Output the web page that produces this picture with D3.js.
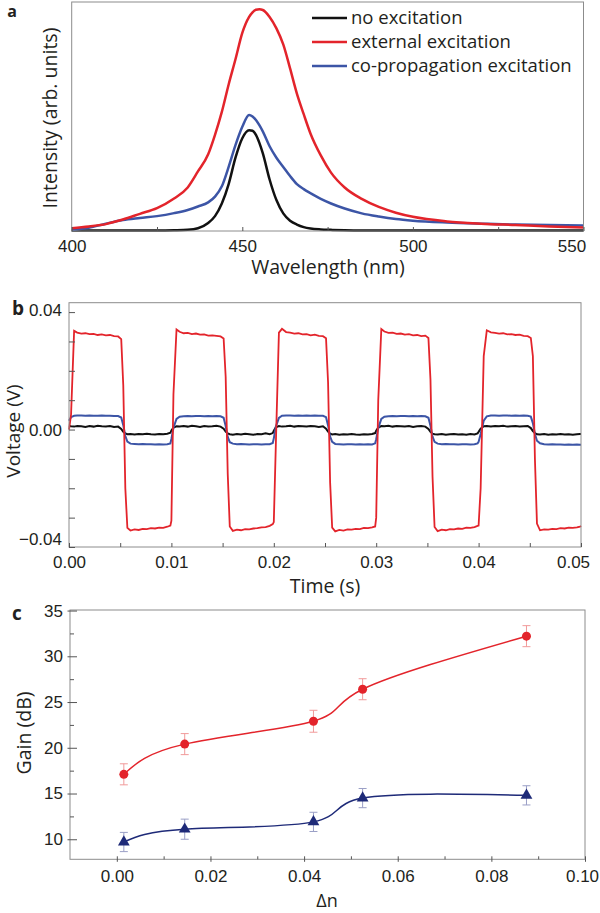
<!DOCTYPE html>
<html>
<head>
<meta charset="utf-8">
<script src="https://cdn.jsdelivr.net/npm/d3@7"></script>
<style>
body { margin: 0; background: #fff; }
svg { display: block; font-family: "Open Sans", sans-serif; }
.tick text { fill: #231f20; }
</style>
</head>
<body>
<svg id="fig" width="600" height="913"></svg>
<script>
// ---- panel a : emission spectra (arb. units) ----
var wavelength = [400, 405, 410, 415, 420, 425, 430, 434, 437, 440, 442, 444, 446, 448, 450, 452, 453, 454, 455, 456, 458, 460, 462, 464, 466, 468, 470, 473, 476, 480, 485, 490, 495, 500, 510, 520, 530, 540, 550];
var noExcitation = [0.002, 0.002, 0.002, 0.002, 0.002, 0.002, 0.003, 0.005, 0.012, 0.035, 0.065, 0.12, 0.205, 0.32, 0.405, 0.44, 0.438, 0.42, 0.385, 0.34, 0.225, 0.135, 0.077, 0.045, 0.028, 0.017, 0.011, 0.007, 0.005, 0.003, 0.002, 0.002, 0.002, 0.002, 0.002, 0.002, 0.002, 0.002, 0.002];
var externalExc = [0.012, 0.02, 0.03, 0.05, 0.075, 0.1, 0.142, 0.19, 0.26, 0.335, 0.42, 0.52, 0.64, 0.75, 0.865, 0.935, 0.955, 0.966, 0.968, 0.965, 0.935, 0.885, 0.815, 0.71, 0.6, 0.51, 0.425, 0.33, 0.255, 0.19, 0.14, 0.105, 0.08, 0.062, 0.042, 0.032, 0.026, 0.02, 0.015];
var coPropExc = [0.004, 0.014, 0.032, 0.048, 0.057, 0.065, 0.078, 0.092, 0.107, 0.125, 0.15, 0.195, 0.28, 0.375, 0.455, 0.507, 0.5, 0.485, 0.462, 0.435, 0.37, 0.32, 0.28, 0.24, 0.205, 0.183, 0.165, 0.14, 0.12, 0.098, 0.077, 0.063, 0.052, 0.045, 0.037, 0.032, 0.028, 0.026, 0.024];
var legendNames = ["no excitation", "external excitation", "co-propagation excitation"];

// ---- panel b : modulated voltage traces ----
var timeS = [
  0.0000, 0.0002, 0.0005, 0.0008, 0.0012, 0.0016, 0.0020, 0.0024, 0.0028, 0.0032, 0.0036, 0.0040, 0.0044, 0.0048, 0.0051, 0.0053, 0.0055, 0.0057, 0.0060, 0.0064, 0.0068, 0.0072, 0.0076, 0.0080, 0.0084, 0.0088, 0.0092, 0.0096, 0.0099,
  0.0100, 0.0102, 0.0105, 0.0108, 0.0112, 0.0116, 0.0120, 0.0124, 0.0128, 0.0132, 0.0136, 0.0140, 0.0144, 0.0148, 0.0151, 0.0153, 0.0155, 0.0157, 0.0160, 0.0164, 0.0168, 0.0172, 0.0176, 0.0180, 0.0184, 0.0188, 0.0192, 0.0196, 0.0199,
  0.0200, 0.0202, 0.0205, 0.0208, 0.0212, 0.0216, 0.0220, 0.0224, 0.0228, 0.0232, 0.0236, 0.0240, 0.0244, 0.0248, 0.0251, 0.0253, 0.0255, 0.0257, 0.0260, 0.0264, 0.0268, 0.0272, 0.0276, 0.0280, 0.0284, 0.0288, 0.0292, 0.0296, 0.0299,
  0.0300, 0.0302, 0.0305, 0.0308, 0.0312, 0.0316, 0.0320, 0.0324, 0.0328, 0.0332, 0.0336, 0.0340, 0.0344, 0.0348, 0.0351, 0.0353, 0.0355, 0.0357, 0.0360, 0.0364, 0.0368, 0.0372, 0.0376, 0.0380, 0.0384, 0.0388, 0.0392, 0.0396, 0.0399,
  0.0400, 0.0402, 0.0405, 0.0408, 0.0412, 0.0416, 0.0420, 0.0424, 0.0428, 0.0432, 0.0436, 0.0440, 0.0444, 0.0448, 0.0451, 0.0453, 0.0455, 0.0457, 0.0460, 0.0464, 0.0468, 0.0472, 0.0476, 0.0480, 0.0484, 0.0488, 0.0492, 0.0496, 0.0499,
  0.0500];
var voltExternal = [
  0.0000, 0.0050, 0.0336, 0.0330, 0.0327, 0.0328, 0.0325, 0.0326, 0.0322, 0.0324, 0.0321, 0.0322, 0.0318, 0.0317, 0.0308, 0.0150, -0.0200, -0.0335, -0.0344, -0.0340, -0.0342, -0.0338, -0.0339, -0.0336, -0.0337, -0.0334, -0.0335, -0.0331, -0.0327,
  -0.0310, 0.0120, 0.0341, 0.0333, 0.0328, 0.0329, 0.0325, 0.0327, 0.0323, 0.0324, 0.0320, 0.0321, 0.0319, 0.0317, 0.0310, 0.0180, -0.0150, -0.0330, -0.0345, -0.0341, -0.0343, -0.0339, -0.0340, -0.0337, -0.0336, -0.0333, -0.0332, -0.0328, -0.0322,
  -0.0315, -0.0050, 0.0330, 0.0343, 0.0332, 0.0330, 0.0327, 0.0328, 0.0324, 0.0325, 0.0321, 0.0323, 0.0319, 0.0318, 0.0311, 0.0160, -0.0180, -0.0334, -0.0347, -0.0342, -0.0344, -0.0340, -0.0341, -0.0338, -0.0339, -0.0335, -0.0336, -0.0333, -0.0330,
  -0.0300, 0.0100, 0.0342, 0.0334, 0.0329, 0.0330, 0.0326, 0.0327, 0.0323, 0.0325, 0.0321, 0.0322, 0.0318, 0.0320, 0.0312, 0.0170, -0.0160, -0.0332, -0.0346, -0.0341, -0.0343, -0.0339, -0.0340, -0.0337, -0.0338, -0.0334, -0.0335, -0.0332, -0.0328,
  -0.0327, -0.0200, 0.0250, 0.0338, 0.0331, 0.0329, 0.0327, 0.0328, 0.0324, 0.0325, 0.0322, 0.0323, 0.0319, 0.0318, 0.0312, 0.0250, -0.0100, -0.0320, -0.0343, -0.0340, -0.0341, -0.0338, -0.0339, -0.0336, -0.0337, -0.0334, -0.0335, -0.0333, -0.0331,
  -0.0328];
var voltCoProp = [
  0.0030, 0.0042, 0.0047, 0.0048, 0.0048, 0.0047, 0.0048, 0.0047, 0.0047, 0.0048, 0.0047, 0.0047, 0.0046, 0.0046, 0.0041, 0.0015, -0.0022, -0.0041, -0.0048, -0.0049, -0.0050, -0.0049, -0.0050, -0.0050, -0.0051, -0.0050, -0.0051, -0.0050, -0.0047,
  -0.0032, 0.0006, 0.0036, 0.0044, 0.0045, 0.0046, 0.0045, 0.0046, 0.0046, 0.0045, 0.0046, 0.0045, 0.0046, 0.0045, 0.0040, 0.0012, -0.0025, -0.0043, -0.0048, -0.0050, -0.0049, -0.0050, -0.0051, -0.0050, -0.0050, -0.0051, -0.0050, -0.0050, -0.0046,
  -0.0030, 0.0010, 0.0040, 0.0047, 0.0048, 0.0048, 0.0047, 0.0048, 0.0047, 0.0048, 0.0047, 0.0048, 0.0047, 0.0047, 0.0042, 0.0014, -0.0024, -0.0042, -0.0049, -0.0050, -0.0051, -0.0050, -0.0050, -0.0051, -0.0050, -0.0051, -0.0050, -0.0051, -0.0047,
  -0.0033, 0.0005, 0.0036, 0.0044, 0.0045, 0.0046, 0.0045, 0.0046, 0.0046, 0.0045, 0.0046, 0.0045, 0.0046, 0.0045, 0.0040, 0.0013, -0.0024, -0.0042, -0.0048, -0.0050, -0.0049, -0.0050, -0.0050, -0.0051, -0.0050, -0.0050, -0.0051, -0.0050, -0.0047,
  -0.0042, -0.0015, 0.0030, 0.0045, 0.0048, 0.0048, 0.0047, 0.0048, 0.0048, 0.0047, 0.0048, 0.0047, 0.0048, 0.0047, 0.0044, 0.0022, -0.0015, -0.0038, -0.0047, -0.0050, -0.0051, -0.0050, -0.0051, -0.0051, -0.0052, -0.0051, -0.0052, -0.0051, -0.0052,
  -0.0052];
var voltNone = [
  0.0012, 0.0011, 0.0010, 0.0012, 0.0011, 0.0009, 0.0012, 0.0010, 0.0013, 0.0011, 0.0010, 0.0012, 0.0009, 0.0010, 0.0002, -0.0008, -0.0013, -0.0016, -0.0015, -0.0017, -0.0015, -0.0016, -0.0014, -0.0016, -0.0017, -0.0015, -0.0016, -0.0014, -0.0011,
  -0.0003, 0.0007, 0.0011, 0.0010, 0.0012, 0.0010, 0.0013, 0.0011, 0.0009, 0.0012, 0.0010, 0.0011, 0.0013, 0.0010, 0.0003, -0.0007, -0.0013, -0.0016, -0.0018, -0.0015, -0.0017, -0.0014, -0.0016, -0.0018, -0.0015, -0.0016, -0.0013, -0.0016, -0.0012,
  -0.0004, 0.0008, 0.0012, 0.0010, 0.0011, 0.0013, 0.0010, 0.0012, 0.0011, 0.0010, 0.0012, 0.0011, 0.0009, 0.0011, 0.0003, -0.0007, -0.0014, -0.0017, -0.0015, -0.0018, -0.0016, -0.0017, -0.0015, -0.0017, -0.0018, -0.0016, -0.0017, -0.0015, -0.0012,
  -0.0004, 0.0007, 0.0012, 0.0011, 0.0013, 0.0010, 0.0012, 0.0011, 0.0010, 0.0012, 0.0009, 0.0011, 0.0012, 0.0010, 0.0002, -0.0008, -0.0014, -0.0016, -0.0017, -0.0015, -0.0018, -0.0016, -0.0015, -0.0017, -0.0016, -0.0018, -0.0015, -0.0017, -0.0013,
  -0.0008, 0.0003, 0.0011, 0.0012, 0.0010, 0.0012, 0.0011, 0.0013, 0.0010, 0.0011, 0.0012, 0.0010, 0.0011, 0.0012, 0.0005, -0.0005, -0.0012, -0.0016, -0.0017, -0.0015, -0.0018, -0.0016, -0.0017, -0.0015, -0.0017, -0.0016, -0.0018, -0.0016, -0.0015,
  -0.0015];

// ---- panel c : gain vs index contrast ----
var deltaN = [0.0015, 0.0145, 0.042, 0.0525, 0.0875];
var gainExternal = [17.1, 20.4, 22.9, 26.4, 32.2];
var errExternal = [1.15, 1.15, 1.2, 1.15, 1.15];
var gainCoProp = [9.7, 11.1, 11.9, 14.5, 14.8];
var errCoProp = [1.05, 1.1, 1.05, 1.05, 1.05];

var RED = "#e3242b", BLUE = "#3c55a6", BLACK = "#111", NAVY = "#1e2a78";
var FRAME = "#8c8c8c", TXT = "#231f20";

var svg = d3.select("#fig");

function frame(g, x, y) {
  g.append("rect")
    .attr("x", x.range()[0]).attr("y", y.range()[1])
    .attr("width", x.range()[1] - x.range()[0])
    .attr("height", y.range()[0] - y.range()[1])
    .attr("fill", "none").attr("stroke", FRAME).attr("stroke-width", 1);
}
function styleAxis(sel, fs) {
  sel.select(".domain").remove();
  sel.selectAll(".tick line").attr("stroke", "#555");
  sel.selectAll(".tick text").style("font-size", fs + "px");
}
// last label on an x axis is pulled in so it stays inside the picture
function pullLast(sel, v, dx) {
  sel.selectAll(".tick text").filter(function(d) { return d === v; }).attr("x", dx);
}

// ================= panel a =================
var ga = svg.append("g");
var xA = d3.scaleLinear().domain([400, 550]).range([71.7, 583.5]);
var yA = d3.scaleLinear().domain([0, 1]).range([231, 2]);

var specLine = function(vals) {
  return d3.line().curve(d3.curveMonotoneX)
    .x(function(d, i) { return xA(wavelength[i]); })
    .y(function(d) { return yA(d); })(vals);
};
ga.append("path").attr("d", specLine(noExcitation)).attr("fill", "none").attr("stroke", BLACK).attr("stroke-width", 2.5);
ga.append("path").attr("d", specLine(coPropExc)).attr("fill", "none").attr("stroke", BLUE).attr("stroke-width", 2.5);
ga.append("path").attr("d", specLine(externalExc)).attr("fill", "none").attr("stroke", RED).attr("stroke-width", 2.5);
frame(ga, xA, yA);

ga.append("g").attr("transform", "translate(0,231)")
  .call(d3.axisBottom(xA).tickValues([425, 475, 525]).tickSize(-4).tickFormat(""))
  .call(function(s) { styleAxis(s, 17); });
ga.append("g").attr("transform", "translate(0,231)")
  .call(d3.axisBottom(xA).tickValues([400, 450, 500, 550]).tickSize(-4).tickPadding(9).tickFormat(d3.format("d")))
  .call(function(s) { styleAxis(s, 17); pullLast(s, 550, -12); });

var legColors = [BLACK, RED, BLUE];
legendNames.forEach(function(n, i) {
  var yy = 18 + i * 24;
  ga.append("line").attr("x1", 312).attr("x2", 347).attr("y1", yy).attr("y2", yy)
    .attr("stroke", legColors[i]).attr("stroke-width", 2.5);
  ga.append("text").attr("x", 351).attr("y", yy).attr("dy", "0.35em")
    .style("font-size", "18.5px").attr("fill", TXT).text(n);
});
ga.append("text").attr("x", 328).attr("y", 267).attr("dy", "0.35em").attr("text-anchor", "middle")
  .style("font-size", "19.5px").attr("fill", TXT).text("Wavelength (nm)");
ga.append("text").attr("transform", "translate(50,118) rotate(-90)").attr("dy", "0.35em")
  .attr("text-anchor", "middle").style("font-size", "19.5px").attr("fill", TXT).text("Intensity (arb. units)");
ga.append("text").attr("x", 12).attr("y", 17).attr("text-anchor", "middle")
  .style("font-size", "16px").style("font-weight", "bold").attr("fill", TXT).text("a");

// ================= panel b =================
var gb = svg.append("g");
var xB = d3.scaleLinear().domain([0, 0.05]).range([69, 581]);
var yB = d3.scaleLinear().domain([-0.04, 0.0432]).range([547, 302.7]);

var traceLine = function(vals) {
  return d3.line()
    .x(function(d, i) { return xB(timeS[i]); })
    .y(function(d) { return yB(d); })(vals);
};
gb.append("path").attr("d", traceLine(voltNone)).attr("fill", "none").attr("stroke", BLACK).attr("stroke-width", 2);
gb.append("path").attr("d", traceLine(voltCoProp)).attr("fill", "none").attr("stroke", BLUE).attr("stroke-width", 2);
gb.append("path").attr("d", traceLine(voltExternal)).attr("fill", "none").attr("stroke", RED).attr("stroke-width", 1.8);
frame(gb, xB, yB);

gb.append("g").attr("transform", "translate(0,547)")
  .call(d3.axisBottom(xB).tickValues([0.005, 0.015, 0.025, 0.035, 0.045]).tickSize(-4).tickFormat(""))
  .call(function(s) { styleAxis(s, 17); });
gb.append("g").attr("transform", "translate(0,547)")
  .call(d3.axisBottom(xB).tickValues([0, 0.01, 0.02, 0.03, 0.04, 0.05]).tickSize(-4).tickPadding(9).tickFormat(d3.format(".2f")))
  .call(function(s) { styleAxis(s, 17); pullLast(s, 0.05, -8); });
gb.append("g").attr("transform", "translate(69,0)")
  .call(d3.axisLeft(yB).tickValues([0.03, 0.02, 0.01, -0.01, -0.02, -0.03]).tickSize(-6).tickFormat(""))
  .call(function(s) { styleAxis(s, 17); });
gb.append("g").attr("transform", "translate(69,0)")
  .call(d3.axisLeft(yB).tickValues([0.04, 0, -0.04]).tickSize(-6).tickPadding(7).tickFormat(d3.format(".2f")))
  .call(function(s) {
    styleAxis(s, 17);
    s.selectAll(".tick text").filter(function(d) { return d < 0; }).attr("y", -8);
    s.selectAll(".tick text").filter(function(d) { return d > 0; }).attr("y", -2);
  });
gb.append("text").attr("x", 325).attr("y", 586).attr("dy", "0.35em").attr("text-anchor", "middle")
  .style("font-size", "19.5px").attr("fill", TXT).text("Time (s)");
gb.append("text").attr("transform", "translate(13,431) rotate(-90)").attr("dy", "0.35em")
  .attr("text-anchor", "middle").style("font-size", "19px").attr("fill", TXT).text("Voltage (V)");
gb.append("text").attr("x", 18).attr("y", 308).attr("dy", "0.35em").attr("text-anchor", "middle")
  .style("font-size", "19px").style("font-weight", "bold").attr("fill", TXT).text("b");

// ================= panel c =================
var gc = svg.append("g");
var xC = d3.scaleLinear().domain([-0.01, 0.10]).range([70, 585]);
var yC = d3.scaleLinear().domain([7.81, 35.06]).range([859.3, 610]);
frame(gc, xC, yC);

gc.append("g").attr("transform", "translate(0,859.3)")
  .call(d3.axisBottom(xC).tickValues([0.01, 0.03, 0.05, 0.07, 0.09]).tickSize(-3).tickFormat(""))
  .call(function(s) { styleAxis(s, 17); });
gc.append("g").attr("transform", "translate(0,859.3)")
  .call(d3.axisBottom(xC).tickValues([0, 0.02, 0.04, 0.06, 0.08, 0.10]).tickSize(-3).tickPadding(11).tickFormat(d3.format(".2f")))
  .call(function(s) { styleAxis(s, 17); s.selectAll(".tick line").attr("y1", 2.5); pullLast(s, 0.10, -3); });
gc.append("g").attr("transform", "translate(70,0)")
  .call(d3.axisLeft(yC).tickValues([12.5, 17.5, 22.5, 27.5, 32.5]).tickSize(-4).tickFormat(""))
  .call(function(s) { styleAxis(s, 17); });
gc.append("g").attr("transform", "translate(70,0)")
  .call(d3.axisLeft(yC).tickValues([10, 15, 20, 25, 30, 35]).tickSize(-7).tickPadding(7).tickFormat(d3.format("d")))
  .call(function(s) { styleAxis(s, 17); s.selectAll(".tick line").attr("x1", -2.5); });

var gainLine = function(vals) {
  return d3.line().curve(d3.curveNatural)
    .x(function(d, i) { return xC(deltaN[i]); })
    .y(function(d) { return yC(d); })(vals);
};
gc.append("path").attr("d", gainLine(gainExternal)).attr("fill", "none").attr("stroke", RED).attr("stroke-width", 1.5);
gc.append("path").attr("d", gainLine(gainCoProp)).attr("fill", "none").attr("stroke", NAVY).attr("stroke-width", 1.5);

function errBars(vals, errs, col) {
  var g = gc.append("g").attr("stroke", col).attr("stroke-width", 1);
  vals.forEach(function(v, i) {
    var cx = xC(deltaN[i]);
    g.append("line").attr("x1", cx).attr("x2", cx).attr("y1", yC(v - errs[i])).attr("y2", yC(v + errs[i]));
    g.append("line").attr("x1", cx - 4).attr("x2", cx + 4).attr("y1", yC(v - errs[i])).attr("y2", yC(v - errs[i]));
    g.append("line").attr("x1", cx - 4).attr("x2", cx + 4).attr("y1", yC(v + errs[i])).attr("y2", yC(v + errs[i]));
  });
}
errBars(gainExternal, errExternal, "#f19a9a");
errBars(gainCoProp, errCoProp, "#9a9fc6");

gc.selectAll(".dotR").data(gainExternal).enter().append("circle")
  .attr("cx", function(d, i) { return xC(deltaN[i]); })
  .attr("cy", function(d) { return yC(d); })
  .attr("r", 4.5).attr("fill", RED);
gc.selectAll(".triB").data(gainCoProp).enter().append("path")
  .attr("d", d3.symbol().type(d3.symbolTriangle).size(60))
  .attr("transform", function(d, i) { return "translate(" + xC(deltaN[i]) + "," + yC(d) + ")"; })
  .attr("fill", NAVY);

gc.append("text").attr("x", 327).attr("y", 907).attr("text-anchor", "middle")
  .style("font-size", "18px").attr("fill", TXT).text("Δn");
gc.append("text").attr("transform", "translate(24,733) rotate(-90)").attr("dy", "0.35em")
  .attr("text-anchor", "middle").style("font-size", "19.5px").attr("fill", TXT).text("Gain (dB)");
gc.append("text").attr("x", 17).attr("y", 613).attr("dy", "0.35em").attr("text-anchor", "middle")
  .style("font-size", "19px").style("font-weight", "bold").attr("fill", TXT).text("c");
</script>
</body>
</html>
